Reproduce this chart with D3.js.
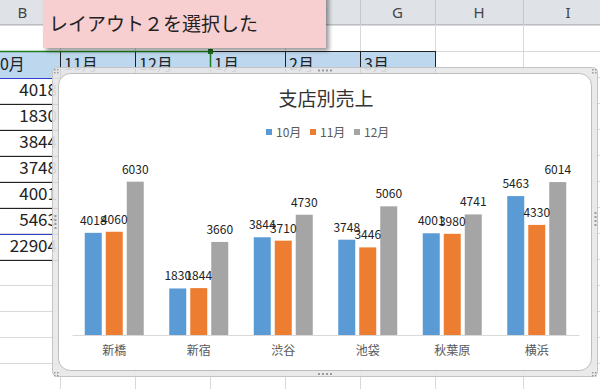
<!DOCTYPE html>
<html>
<head>
<meta charset="utf-8">
<script src="https://cdn.jsdelivr.net/npm/d3@7"></script>
<style>
  body { margin: 0; background: #fff; }
  svg { display: block; }
  text { font-family: "Noto Sans CJK JP", "Noto Sans", sans-serif; }
</style>
</head>
<body>
<script>
// chart data
var stores = ["新橋", "新宿", "渋谷", "池袋", "秋葉原", "横浜"];
var months = ["10月", "11月", "12月"];
var oct = [4018, 1830, 3844, 3748, 4001, 5463];
var nov = [4060, 1844, 3710, 3446, 3980, 4330];
var dec = [6030, 3660, 4730, 5060, 4741, 6014];
var colors = ["#5b9bd5", "#ed7d31", "#a5a5a5"];
var chartTitle = "支店別売上";

// sheet text behind the chart
var colLetters = ["B", "C", "D", "E", "F", "G", "H", "I"];
var sheetMonths = ["10月", "11月", "12月", "1月", "2月", "3月"];
var calloutText = "レイアウト２を選択した";

var W = 600, H = 389;
var colEdges = [-15, 60, 135, 210, 285, 360, 435, 523, 613];
var rowH = 26, headH = 25;

var svg = d3.select("body").append("svg")
    .attr("width", W)
    .attr("height", H);

var defs = svg.append("defs");
var f = defs.append("filter").attr("id", "shadow")
    .attr("x", "-10%").attr("y", "-20%").attr("width", "130%").attr("height", "160%");
f.append("feDropShadow").attr("dx", 3).attr("dy", 3).attr("stdDeviation", 2)
    .attr("flood-color", "#000").attr("flood-opacity", 0.4);

// ---------- spreadsheet ----------
var sheet = svg.append("g");

// grid lines
for (var r = 0; r * rowH + headH < H + rowH; r++) {
    sheet.append("line")
        .attr("x1", 0).attr("x2", W)
        .attr("y1", headH + r * rowH + 0.5).attr("y2", headH + r * rowH + 0.5)
        .attr("stroke", "#d9d9d9");
}
colEdges.slice(1, -1).forEach(function(x) {
    sheet.append("line")
        .attr("x1", x + 0.5).attr("x2", x + 0.5)
        .attr("y1", headH).attr("y2", H)
        .attr("stroke", "#d9d9d9");
});

// column header (C, D, E sit under the callout, so they are not drawn)
sheet.append("rect").attr("x", 0).attr("y", 0).attr("width", W).attr("height", headH)
    .attr("fill", "#dfe3e8");
sheet.append("line").attr("x1", 0).attr("x2", W).attr("y1", headH - 0.5).attr("y2", headH - 0.5)
    .attr("stroke", "#b9bec5");
colLetters.forEach(function(c, i) {
    var x0 = colEdges[i], x1 = colEdges[i + 1];
    sheet.append("line").attr("x1", x1 + 0.5).attr("x2", x1 + 0.5)
        .attr("y1", 0).attr("y2", headH).attr("stroke", "#c3c7cd");
    if (x0 >= 60 && x1 <= 285) return;
    sheet.append("text")
        .attr("x", (x0 + x1) / 2).attr("y", 18)
        .attr("text-anchor", "middle")
        .style("font-family", "Noto Sans, sans-serif")
        .style("font-size", "15px").attr("fill", "#444")
        .text(c);
});

// header row of the table (blue)
var y2 = headH + rowH;
sheet.append("rect").attr("x", 0).attr("y", y2 + 1).attr("width", 435).attr("height", rowH)
    .attr("fill", "#bdd7ee");
sheetMonths.forEach(function(m, i) {
    sheet.append("text")
        .attr("x", i === 0 ? -9 : colEdges[i] + 4)
        .attr("y", y2 + 19)
        .style("font-size", "16px").attr("fill", "#222")
        .text(m);
});
[60, 135, 285, 360, 435].forEach(function(x) {
    sheet.append("line").attr("x1", x + 0.5).attr("x2", x + 0.5)
        .attr("y1", y2).attr("y2", y2 + rowH + 1).attr("stroke", "#222");
});
sheet.append("line").attr("x1", 210).attr("x2", 435).attr("y1", y2 + 0.5).attr("y2", y2 + 0.5)
    .attr("stroke", "#222");
sheet.append("line").attr("x1", 0).attr("x2", 210).attr("y1", y2 + 0.5).attr("y2", y2 + 0.5)
    .attr("stroke", "#1e7a1e").attr("stroke-width", 1.5);
sheet.append("line").attr("x1", 210.5).attr("x2", 210.5).attr("y1", y2).attr("y2", y2 + rowH + 1)
    .attr("stroke", "#1e7a1e").attr("stroke-width", 1.5);
sheet.append("rect").attr("x", 208).attr("y", y2 - 2).attr("width", 5).attr("height", 5)
    .attr("fill", "#1e6b1e");

// column B values + total
var colB = oct.concat([d3.sum(oct)]);
colB.forEach(function(v, i) {
    var top = y2 + rowH * (i + 1);
    sheet.append("text")
        .attr("x", 57).attr("y", top + 19)
        .attr("text-anchor", "end")
        .style("font-size", "17px").attr("fill", "#222")
        .text(v);
});
for (var k = 1; k <= 8; k++) {
    var yy = y2 + rowH * k + 1;
    var blue = (k === 1 || k === 7);
    sheet.append("line").attr("x1", 0).attr("x2", 60)
        .attr("y1", yy + 0.5).attr("y2", yy + 0.5)
        .attr("stroke", blue ? "#2b3fcc" : "#222");
}

// callout
svg.append("rect")
    .attr("x", 43).attr("y", -6).attr("width", 283).attr("height", 54)
    .attr("fill", "#f8cfd1")
    .attr("filter", "url(#shadow)");
svg.append("text")
    .attr("x", 49).attr("y", 31)
    .style("font-size", "19px").attr("fill", "#222")
    .text(calloutText);

// ---------- chart frame ----------
svg.append("rect")
    .attr("x", 52.5).attr("y", 67.5).attr("width", 545).attr("height", 309)
    .attr("rx", 5)
    .attr("fill", "rgba(232,232,232,0.9)").attr("stroke", "#c4c4c4");
svg.append("rect")
    .attr("x", 58.5).attr("y", 73.5).attr("width", 533).attr("height", 297)
    .attr("rx", 12)
    .attr("fill", "#fff").attr("stroke", "#bdbdbd");

// frame handles
var handles = svg.append("g").attr("fill", "#9a9a9a");
[[318, 69.5, 1], [318, 373, 1], [54.5, 215, 0], [594.5, 212, 0]].forEach(function(h) {
    for (var j = 0; j < 4; j++) {
        handles.append("rect")
            .attr("x", h[2] ? h[0] + j * 4 : h[0])
            .attr("y", h[2] ? h[1] : h[1] + j * 4)
            .attr("width", 2).attr("height", 2);
    }
});
[[54, 69], [592, 69], [54, 372], [592, 372]].forEach(function(c) {
    [[0, 0], [3, 0], [0, 3], [3, 3]].forEach(function(o) {
        handles.append("rect").attr("x", c[0] + o[0]).attr("y", c[1] + o[1])
            .attr("width", 1.5).attr("height", 1.5);
    });
});

// ---------- chart ----------
var chart = svg.append("g");

chart.append("text")
    .attr("x", 326).attr("y", 106)
    .attr("text-anchor", "middle")
    .style("font-size", "19px").attr("fill", "#333")
    .text(chartTitle);

// legend
var legend = chart.append("g");
months.forEach(function(m, i) {
    var lx = 266 + i * 44;
    legend.append("rect").attr("x", lx).attr("y", 129).attr("width", 6).attr("height", 6)
        .attr("fill", colors[i]);
    legend.append("text").attr("x", lx + 10).attr("y", 136.5)
        .style("font-size", "12px").attr("fill", "#595959")
        .text(m);
});

var series = [oct, nov, dec];
var x0 = d3.scaleBand().domain(stores).range([72, 579]);
var groupW = 59;
var x1 = d3.scaleBand().domain(months).range([0, groupW]).paddingInner(4 / 21);
var y = d3.scaleLinear().domain([0, 7000]).range([335, 157]);

var groups = chart.selectAll(".grp")
    .data(stores)
    .enter().append("g")
    .attr("class", "grp")
    .attr("transform", function(d) {
        return "translate(" + (x0(d) + (x0.bandwidth() - groupW) / 2) + ",0)";
    });

groups.selectAll("rect")
    .data(function(d, i) {
        return months.map(function(m, j) { return {m: m, v: series[j][i], j: j}; });
    })
    .enter().append("rect")
    .attr("x", function(d) { return x1(d.m); })
    .attr("y", function(d) { return y(d.v); })
    .attr("width", x1.bandwidth())
    .attr("height", function(d) { return y(0) - y(d.v); })
    .attr("fill", function(d) { return colors[d.j]; });

groups.selectAll("text.lbl")
    .data(function(d, i) {
        return months.map(function(m, j) { return {m: m, v: series[j][i], j: j}; });
    })
    .enter().append("text")
    .attr("class", "lbl")
    .attr("x", function(d) { return x1(d.m) + x1.bandwidth() / 2; })
    .attr("y", function(d) { return y(d.v) - 8; })
    .attr("text-anchor", "middle")
    .style("font-size", "12px").attr("fill", "#222")
    .text(function(d) { return d.v; });

// category axis
var axis = chart.append("g")
    .attr("transform", "translate(0,335)")
    .call(d3.axisBottom(x0).tickSize(0).tickPadding(11));
axis.select(".domain").attr("stroke", "#d9d9d9");
axis.selectAll("text")
    .style("font-family", "Noto Sans CJK JP, sans-serif")
    .style("font-size", "12px").attr("fill", "#595959");
</script>
</body>
</html>
